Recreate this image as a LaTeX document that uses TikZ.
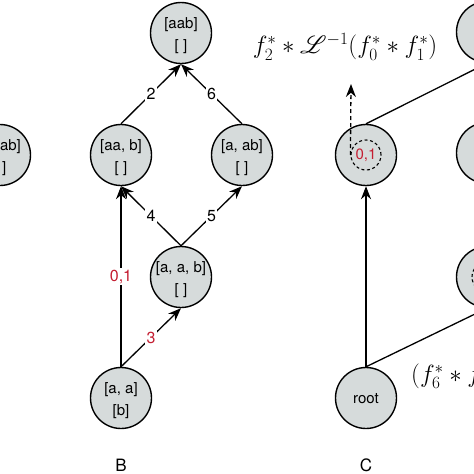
\documentclass[tikz,border=0pt]{standalone}
\usepackage{fontspec}
\usepackage{mathrsfs}
\newfontfamily\helv{TeX Gyre Heros}
\usetikzlibrary{arrows.meta,calc}
\definecolor{nodefill}{RGB}{214,219,219}
\definecolor{lblred}{RGB}{196,30,50}
\begin{document}
\begin{tikzpicture}[x=1pt,y=-1pt,
  st/.style={circle,draw=black,line width=1.4pt,fill=nodefill,minimum size=61pt,inner sep=0pt},
  txt/.style={font=\helv\fontsize{15}{17}\selectfont,inner sep=0pt},
  inner/.style={circle,draw=black,line width=1.1pt,dash pattern=on 3pt off 2.5pt,minimum size=30pt,inner sep=0pt},
  edge/.style={line width=1.3pt,-{Stealth[length=13pt,width=10pt]}},
  plain/.style={line width=1.3pt},
  elbl/.style={font=\helv\fontsize{16}{18}\selectfont,fill=white,inner sep=1.5pt},
  panel/.style={font=\helv\fontsize{17}{19}\selectfont,inner sep=0pt},
  formula/.style={font=\fontsize{23}{27}\selectfont,inner sep=0pt}
]
\useasboundingbox (0,0) rectangle (474,474);
% panel A (partial)
\node[st] (A1) at (0,155) {};
\node[txt] (A1a) at (0,147) {[a, ab]};
\node[txt] (A1b) at (0,169) {[ ]};
% panel B
\node[st] (aab) at (181,33) {};
\node[txt] (aab1) at (181,25) {[aab]};
\node[txt] (aab2) at (181,47) {[ ]};
\node[st] (BA) at (121,155) {};
\node[txt] (BA1) at (121,147) {[aa, b]};
\node[txt] (BA2) at (121,169) {[ ]};
\node[st] (BB) at (242,155) {};
\node[txt] (BB1) at (242,147) {[a, ab]};
\node[txt] (BB2) at (242,169) {[ ]};
\node[st] (BC) at (181,277) {};
\node[txt] (BC1) at (181,269) {[a, a, b]};
\node[txt] (BC2) at (181,291) {[ ]};
\node[st] (BD) at (121,398) {};
\node[txt] (BD1) at (121,390) {[a, a]};
\node[txt] (BD2) at (121,412) {[b]};
\draw[edge] (BA.north) -- node[elbl]{2} (aab.south);
\draw[edge] (BB.north) -- node[elbl]{6} (aab.south);
\draw[edge] (BC.north) -- node[elbl]{4} (BA.south);
\draw[edge] (BC.north) -- node[elbl]{5} (BB.south);
\draw[edge] (BD.north) -- node[elbl,text=lblred]{0,1} (BA.south);
\draw[edge] (BD.north) -- node[elbl,text=lblred]{3} (BC.south);
\node[panel] (labB) at (121,465) {B};
% panel C
\node[st] (C01) at (366,155) {};
\node[inner] (C01i) at (366,155) {};
\node[txt,text=lblred] (C01t) at (366,155) {0,1};
\node[st] (Croot) at (366,398) {};
\node[txt] (Croott) at (366,399) {root};
\node[st] (CR1) at (487,32) {};
\node[st] (CR2) at (487,153) {};
\node[st] (CR3) at (487,277) {};
\node[inner] (CR3i) at (487,277) {};
\node[txt,text=lblred] (CR3t) at (487,277) {3};
\draw[edge] (Croot.north) -- (C01.south);
\draw[plain] (Croot.north) -- (CR3.south);
\draw[plain] (C01.north) -- (CR1.south);
\coordinate (dtip) at (351,84);
\draw[edge,dash pattern=on 4pt off 3pt] (C01i.west) -- (dtip);
\node[formula] (F1) at (345,47) {$f_2^* * \mathscr{L}^{-1}(f_0^* * f_1^*)$};
\node[formula,anchor=west] (F2) at (411,376) {$(f_6^* * f_5^*)$};
\node[panel] (labC) at (366,465) {C};
\end{tikzpicture}
\end{document}
